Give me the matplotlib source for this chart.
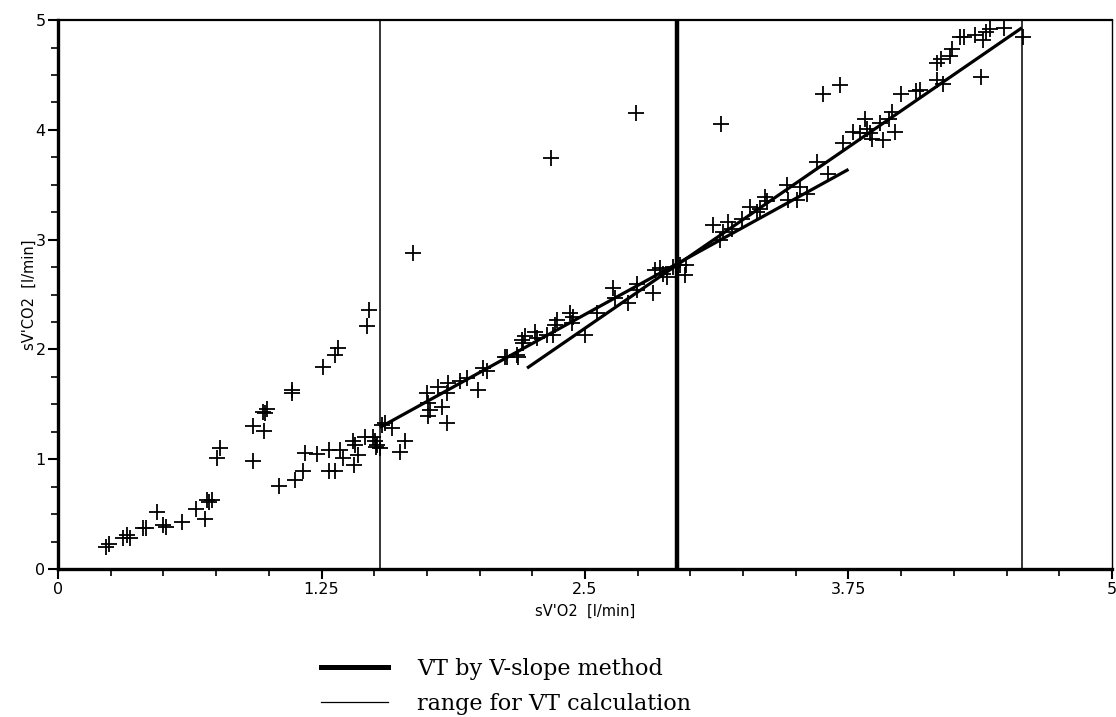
import matplotlib.pyplot as plt
from matplotlib.ticker import MultipleLocator, FixedLocator
from matplotlib.lines import Line2D

# Data (sV'O2 vs sV'CO2, l/min)
vo2 = [0.228, 0.243, 0.307, 0.326, 0.342, 0.405, 0.418, 0.471, 0.500, 0.512,
       0.590, 0.655, 0.697, 0.705, 0.729, 0.718, 0.753, 0.768, 0.924, 0.924,
       0.971, 0.977, 0.990, 0.982, 1.108, 1.111, 1.259, 1.314, 1.330, 1.467,
       1.477, 1.050, 1.124, 1.164, 1.172, 1.227, 1.287, 1.287, 1.314, 1.338,
       1.354, 1.400, 1.409, 1.404, 1.425, 1.456, 1.496, 1.504, 1.512, 1.527,
       1.535, 1.551, 1.510, 1.583, 1.646, 1.620, 1.749, 1.757, 1.765, 1.757,
       1.804, 1.820, 1.844, 1.852, 1.844, 1.907, 1.940, 1.994, 2.018, 2.034,
       2.128, 2.176, 2.208, 2.120, 2.180, 2.200, 2.215, 2.263, 2.270, 2.318,
       2.350, 2.358, 2.366, 2.430, 2.437, 2.444, 2.500, 2.555, 2.634, 2.642,
       2.705, 2.745, 2.745, 2.824, 2.832, 2.856, 2.871, 2.887, 2.919, 2.950,
       2.975, 2.980, 3.109, 3.140, 3.156, 3.180, 3.196, 3.243, 3.283, 3.314,
       3.330, 3.354, 3.362, 3.457, 3.465, 3.504, 3.520, 3.551, 3.654, 3.600,
       3.630, 3.710, 3.725, 3.773, 3.805, 3.828, 3.836, 3.852, 3.860, 3.900,
       3.915, 3.940, 3.955, 3.970, 4.000, 4.070, 4.090, 4.170, 4.200, 4.170,
       4.190, 4.230, 4.240, 4.280, 4.300, 4.350, 4.390, 4.400, 4.420, 4.490,
       4.380, 4.580, 1.686, 2.337, 2.742, 3.144]
vco2 = [0.20, 0.23, 0.28, 0.31, 0.28, 0.37, 0.37, 0.52, 0.40, 0.385,
        0.43, 0.55, 0.46, 0.63, 0.63, 0.61, 1.01, 1.10, 0.98, 1.30,
        1.43, 1.26, 1.46, 1.42, 1.63, 1.60, 1.84, 1.95, 2.01, 2.21,
        2.36, 0.76, 0.81, 0.895, 1.06, 1.05, 1.08, 0.895, 0.89, 1.08,
        1.01, 1.17, 1.13, 0.95, 1.04, 1.20, 1.20, 1.17, 1.13, 1.10,
        1.31, 1.33, 1.11, 1.28, 1.17, 1.07, 1.60, 1.51, 1.45, 1.39,
        1.66, 1.48, 1.33, 1.69, 1.60, 1.71, 1.74, 1.63, 1.83, 1.80,
        1.93, 1.95, 2.06, 1.93, 1.93, 2.09, 2.12, 2.16, 2.10, 2.13,
        2.13, 2.22, 2.27, 2.33, 2.24, 2.30, 2.13, 2.33, 2.56, 2.47,
        2.42, 2.60, 2.54, 2.51, 2.72, 2.74, 2.69, 2.66, 2.75, 2.77,
        2.68, 2.77, 3.13, 3.00, 3.07, 3.16, 3.10, 3.19, 3.30, 3.25,
        3.28, 3.39, 3.35, 3.50, 3.36, 3.36, 3.48, 3.42, 3.60, 3.71,
        4.33, 4.41, 3.88, 3.98, 3.97, 4.10, 4.01, 3.97, 3.92, 4.06,
        3.91, 4.10, 4.16, 3.98, 4.33, 4.35, 4.36, 4.45, 4.42, 4.61,
        4.65, 4.67, 4.74, 4.85, 4.85, 4.86, 4.82, 4.89, 4.92, 4.93,
        4.48, 4.85, 2.875, 3.74, 4.15, 4.05]

# V-slope regression lines (endpoints in data units)
fit1_x = [1.527, 3.75]
fit1_y = [1.29, 3.64]
fit2_x = [2.225, 4.573]
fit2_y = [1.83, 4.93]

VT = 2.937
RANGE_LO = 1.527
RANGE_HI = 4.573

fig = plt.figure(figsize=(11.16, 7.17), dpi=100)
ax = fig.add_axes([0.052, 0.2064, 0.9444, 0.7656])

ax.scatter(vo2, vco2, marker='+', s=125, color='black', linewidths=1.3, zorder=3)
ax.plot(fit1_x, fit1_y, color='black', lw=2.3, solid_capstyle='butt', zorder=4)
ax.plot(fit2_x, fit2_y, color='black', lw=2.3, solid_capstyle='butt', zorder=4)

ax.axvline(VT, color='black', lw=3.2, zorder=5)
ax.axvline(RANGE_LO, color='black', lw=1.1, zorder=2)
ax.axvline(RANGE_HI, color='black', lw=1.1, zorder=2)

ax.set_xlim(0, 5)
ax.set_ylim(0, 5)
ax.xaxis.set_major_locator(FixedLocator([0, 1.25, 2.5, 3.75, 5]))
ax.xaxis.set_major_formatter(plt.FixedFormatter(['0', '1.25', '2.5', '3.75', '5']))
ax.xaxis.set_minor_locator(MultipleLocator(0.25))
ax.yaxis.set_major_locator(MultipleLocator(1))
ax.yaxis.set_minor_locator(MultipleLocator(0.25))

ax.tick_params(which='major', direction='out', length=7, width=1.5,
               labelsize=11.5, pad=2)
ax.tick_params(which='minor', direction='out', length=5, width=1.2)

ax.spines['left'].set_linewidth(2.4)
ax.spines['bottom'].set_linewidth(2.4)
ax.spines['top'].set_linewidth(1.6)
ax.spines['right'].set_linewidth(1.0)

ax.set_xlabel("sV'O2  [l/min]", fontsize=10.5, labelpad=5)
ax.set_ylabel("sV'CO2  [l/min]", fontsize=10.5, labelpad=-1)

handles = [Line2D([], [], color='black', lw=3.6),
           Line2D([], [], color='black', lw=0.9)]
fig.legend(handles, ['VT by V-slope method', 'range for VT calculation'],
           loc='center left', bbox_to_anchor=(0.288, 0.043), frameon=False,
           borderpad=0, borderaxespad=0, handlelength=3.0, handletextpad=1.3,
           labelspacing=0.58, prop={'family': 'DejaVu Serif', 'size': 16})

plt.savefig('out.png', dpi=100)
